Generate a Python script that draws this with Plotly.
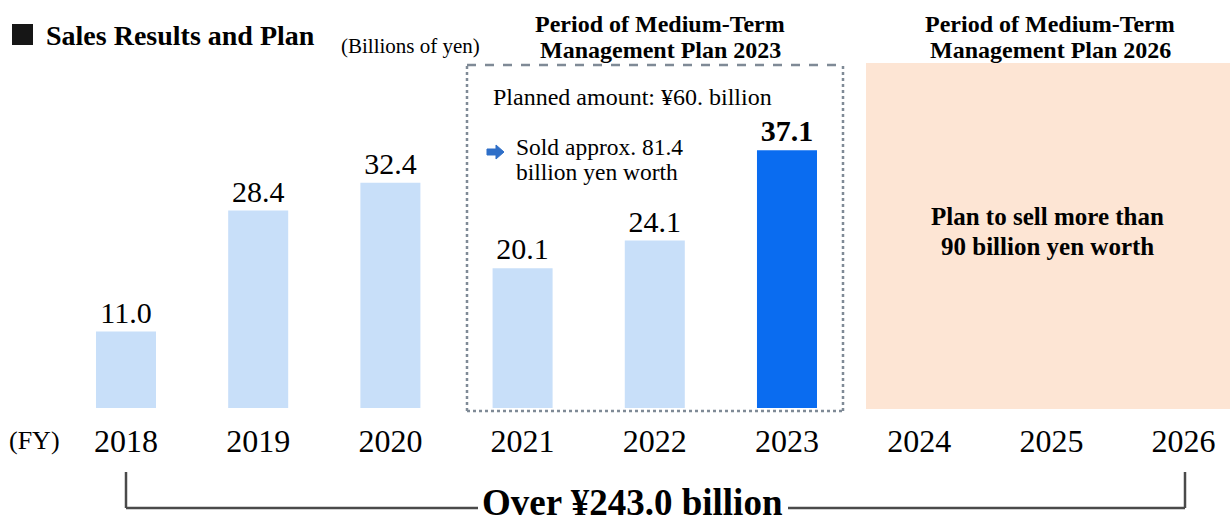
import plotly.graph_objects as go

# Sales by fiscal year, billions of yen
fiscal_years = ["2018", "2019", "2020", "2021", "2022", "2023", "2024", "2025", "2026"]
result_years = ["2018", "2019", "2020", "2021", "2022", "2023"]
sales = [11.0, 28.4, 32.4, 20.1, 24.1, 37.1]

W, H = 1230, 525
PLOT_H = 408          # plot area height in px (baseline of the bars)
FONT = "Liberation Serif"

LIGHT_BLUE = "#C8DFF9"
DARK_BLUE = "#0A6CF0"
PEACH = "#FDE5D4"
BOX_GREY = "#7F8A96"


def px(x):
    """Horizontal pixel -> paper coordinate."""
    return x / W


def py(y):
    """Vertical pixel (from top) -> paper coordinate."""
    return (PLOT_H - y) / PLOT_H


bar_colors = [LIGHT_BLUE] * (len(sales) - 1) + [DARK_BLUE]
labels = [f"{v:.1f}" for v in sales]
labels[-1] = f"<b>{labels[-1]}</b>"

fig = go.Figure(
    go.Bar(
        x=result_years,
        y=sales,
        width=0.454,
        marker=dict(color=bar_colors, line=dict(width=0)),
        text=labels,
        textposition="outside",
        cliponaxis=False,
        textfont=dict(family=FONT, size=30, color="black"),
        hoverinfo="skip",
    )
)

shapes = []
# Medium-Term Management Plan 2026 period panel
shapes.append(dict(type="rect", xref="paper", yref="paper",
                   x0=px(866), x1=px(1230), y0=py(409), y1=py(63),
                   fillcolor=PEACH, line=dict(width=0), layer="below"))
# Medium-Term Management Plan 2023 period frame
bx0, bx1, by0, by1 = px(467), px(843), py(411), py(65)
shapes.append(dict(type="line", xref="paper", yref="paper", x0=bx0, x1=bx1, y0=by1, y1=by1,
                   line=dict(color=BOX_GREY, width=2.5, dash="dash"), layer="above"))
for seg in [(bx0, by0, bx1, by0), (bx0, by0, bx0, by1), (bx1, by0, bx1, by1)]:
    shapes.append(dict(type="line", xref="paper", yref="paper",
                       x0=seg[0], y0=seg[1], x1=seg[2], y1=seg[3],
                       line=dict(color=BOX_GREY, width=2.5, dash="dot"), layer="above"))
# Title square
shapes.append(dict(type="rect", xref="paper", yref="paper",
                   x0=px(12), x1=px(33), y0=py(45), y1=py(24),
                   fillcolor="#161616", line=dict(width=0)))
# Small arrow beside the sold amount
arrow = [(487, 149), (496, 149), (496, 145), (504, 152), (496, 159), (496, 155), (487, 155)]
path = "M " + " L ".join(f"{px(a):.5f},{py(b):.5f}" for a, b in arrow) + " Z"
shapes.append(dict(type="path", xref="paper", yref="paper", path=path,
                   fillcolor="#2F6FC8", line=dict(color="#2F6FC8", width=1)))
# Bracket spanning FY2018-FY2026
BR = dict(color="#4A4A4A", width=2.5)
for seg in [(126, 472, 126, 508), (126, 508, 478, 508), (788, 508, 1185, 508), (1185, 508, 1185, 472)]:
    shapes.append(dict(type="line", xref="paper", yref="paper",
                       x0=px(seg[0]), y0=py(seg[1]), x1=px(seg[2]), y1=py(seg[3]), line=BR))


def note(text, x, y, size, bold=False, xanchor="left"):
    t = f"<b>{text}</b>" if bold else text
    return dict(text=t, xref="paper", yref="paper", x=px(x), y=py(y),
                xanchor=xanchor, yanchor="middle", showarrow=False,
                font=dict(family=FONT, size=size, color="black"))


annotations = [
    note("Sales Results and Plan", 44, 35, 28, bold=True),
    note("(Billions of yen)", 339, 46, 21),
    note("Period of Medium-Term", 660, 24, 24, bold=True, xanchor="center"),
    note("Management Plan 2023", 660, 50, 24, bold=True, xanchor="center"),
    note("Period of Medium-Term", 1050, 24, 24, bold=True, xanchor="center"),
    note("Management Plan 2026", 1050, 50, 24, bold=True, xanchor="center"),
    note("Planned amount: ¥60. billion", 491, 97, 24),
    note("Sold approx. 81.4", 514, 147, 23.5),
    note("billion yen worth", 514, 172, 23.5),
    note("Plan to sell more than", 1047, 216, 25, bold=True, xanchor="center"),
    note("90 billion yen worth", 1047, 246, 25, bold=True, xanchor="center"),
    note("(FY)", 7, 440, 26),
    note("Over ¥243.0 billion", 632, 502, 37, bold=True, xanchor="center"),
]

fig.update_layout(
    width=W, height=H,
    margin=dict(l=0, r=0, t=0, b=H - PLOT_H),
    paper_bgcolor="white", plot_bgcolor="rgba(0,0,0,0)",
    showlegend=False,
    shapes=shapes,
    annotations=annotations,
    xaxis=dict(type="category", categoryorder="array", categoryarray=fiscal_years,
               tickvals=fiscal_years, ticktext=fiscal_years,
               range=[-0.953, 8.351], showgrid=False, zeroline=False, showline=False,
               ticks="", ticklabelstandoff=11,
               tickfont=dict(family=FONT, size=32, color="black")),
    yaxis=dict(range=[0, PLOT_H / 6.95], visible=False, showgrid=False),
)

fig.write_html("out.html")
